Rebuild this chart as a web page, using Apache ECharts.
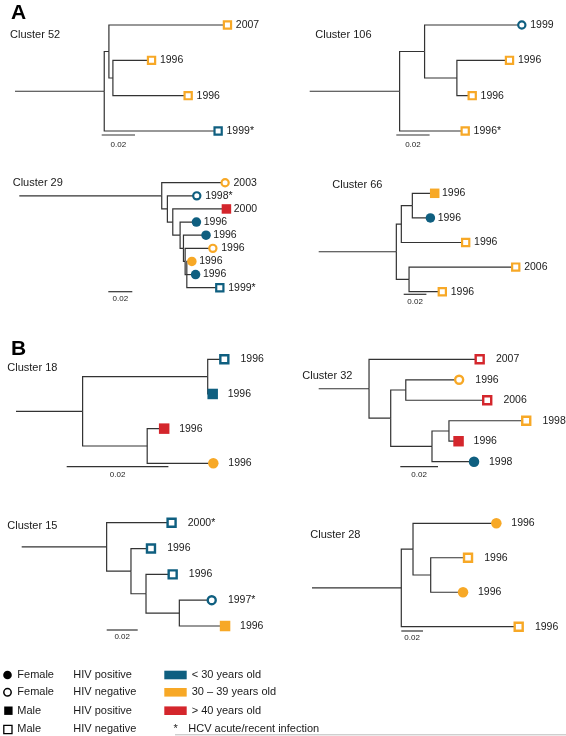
<!DOCTYPE html>
<html><head><meta charset="utf-8">
<script src="https://cdn.jsdelivr.net/npm/echarts@6/dist/echarts.min.js"></script>
<style>html,body{margin:0;padding:0;background:#fff}#c{width:566px;height:736px}</style>
</head><body><div id="c"></div>
<script>
// ---------------- DATA ----------------
const clusterNames = ['Cluster 52','Cluster 106','Cluster 29','Cluster 66','Cluster 18','Cluster 32','Cluster 15','Cluster 28'];
const scaleBarLength = 0.02;

// Trees (Newick, branch lengths in substitutions/site; tip names = tip index)
const c52Tree  = "((0:0.0712,(1:0.0232,2:0.0452):0.0024):0.0028,3:0.0684):0.0536";
const c106Tree = "((0:0.0584,(1:0.0316,2:0.0092):0.0194):0.015,3:0.0394):0.054";
const c29Tree  = "(0:0.0528,(1:0.0245,(2:0.0447,(3:0.0136,(4:0.0188,(5:0.0231,(6:0.0042,7:0.0073,8:0.0275):0.0014):0.0014):0.0028):0.0061):0.0045):0.0047):0.1187";
const c66Tree  = "(((0:0.0197,1:0.0159):0.0097,2:0.0567):0.0044,(3:0.094,4:0.0293):0.0112):0.0684";
const c18Tree  = "((0:0.00327,1:0.00098):0.0246,(2:0.00334,3:0.013):0.0127):0.0131";
const c32Tree  = "(0:0.0587,((1:0.0283,2:0.0432):0.008,((3:0.041,4:0.0051):0.009,5:0.0223):0.0219):0.0115):0.0267";
const c15Tree  = "(0:0.0419,(1:0.0129,(2:0.0172,(3:0.0209,4:0.0295):0.0215):0.0097):0.0157):0.0548";
const c28Tree  = "((0:0.0768,(1:0.0344,2:0.0298):0.0163):0.0108,3:0.1082):0.0823";

// Tips: year label, sex+HIV group (F+,F-,M+,M-), age group
const c52Years = ['2007','1996','1996','1999*'];
const c52Group = ['M-','M-','M-','M-'];
const c52Age   = ['30-39','30-39','30-39','<30'];
const c106Years = ['1999','1996','1996','1996*'];
const c106Group = ['F-','M-','M-','M-'];
const c106Age   = ['<30','30-39','30-39','30-39'];
const c29Years = ['2003','1998*','2000','1996','1996','1996','1996','1996','1999*'];
const c29Group = ['F-','F-','M+','F+','F+','F-','F+','F+','M-'];
const c29Age   = ['30-39','<30','>40','<30','<30','30-39','30-39','<30','<30'];
const c66Years = ['1996','1996','1996','2006','1996'];
const c66Group = ['M+','F+','M-','M-','M-'];
const c66Age   = ['30-39','<30','30-39','30-39','30-39'];
const c18Years = ['1996','1996','1996','1996'];
const c18Group = ['M-','M+','M+','F+'];
const c18Age   = ['<30','<30','>40','30-39'];
const c32Years = ['2007','1996','2006','1998','1996','1998'];
const c32Group = ['M-','F-','M-','M-','M+','F+'];
const c32Age   = ['>40','30-39','>40','30-39','>40','<30'];
const c15Years = ['2000*','1996','1996','1997*','1996'];
const c15Group = ['M-','M-','M-','F-','M+'];
const c15Age   = ['<30','<30','<30','<30','30-39'];
const c28Years = ['1996','1996','1996','1996'];
const c28Group = ['F+','M-','F+','M-'];
const c28Age   = ['30-39','30-39','30-39','30-39'];

const ageLabels = ['< 30 years old','30 \u2013 39 years old','> 40 years old'];
const groupLabels = [['Female','HIV positive'],['Female','HIV negative'],['Male','HIV positive'],['Male','HIV negative']];

// ---------------- STYLE / LAYOUT ----------------
const FONT = 'Liberation Sans, Arial, Helvetica, sans-serif';
const ageColor = {'<30':'#0f5f80','30-39':'#f7a826','>40':'#d4262c'};
const lineColor = '#333';
// x0: stem start px, y0: first tip px, sp: tip spacing px, barPx: pixel length of 0.02
const layout = [
 {x0:15,   y0:25,    sp:35.33, barPx:33.3,  barL:101.7, barY:135,   labY:144.5, tx:10,    ty:35,    panel:'A'},
 {x0:309.7,y0:25,    sp:35.33, barPx:33.3,  barL:396.3, barY:135,   labY:144.5, tx:315.3, ty:35,    panel:'A'},
 {x0:19.3, y0:182.7, sp:13.125,barPx:24,    barL:108.3, barY:291.7, labY:298.5, tx:12.7,  ty:183.3, panel:'A'},
 {x0:318.7,y0:193.3, sp:24.6,  barPx:22.7,  barL:403.7, barY:294.3, labY:301.7, tx:332.3, ty:185,   panel:'A'},
 {x0:16,   y0:359.3, sp:34.67, barPx:101.7, barL:66.7,  barY:466.7, labY:475,   tx:7.3,   ty:368.3, panel:'B'},
 {x0:318.7,y0:359.3, sp:20.48, barPx:37.7,  barL:400.3, barY:466.7, labY:475,   tx:302.3, ty:376,   panel:'B'},
 {x0:21.7, y0:522.7, sp:25.83, barPx:31,    barL:106.7, barY:630,   labY:636.7, tx:7.3,   ty:526,   panel:'B'},
 {x0:312,  y0:523.3, sp:34.47, barPx:21.7,  barL:401.3, barY:631,   labY:637.7, tx:310.3, ty:535,   panel:'B'}
];
const clusters = [
 {tree:c52Tree, years:c52Years, group:c52Group, age:c52Age},
 {tree:c106Tree,years:c106Years,group:c106Group,age:c106Age},
 {tree:c29Tree, years:c29Years, group:c29Group, age:c29Age},
 {tree:c66Tree, years:c66Years, group:c66Group, age:c66Age},
 {tree:c18Tree, years:c18Years, group:c18Group, age:c18Age},
 {tree:c32Tree, years:c32Years, group:c32Group, age:c32Age},
 {tree:c15Tree, years:c15Years, group:c15Group, age:c15Age},
 {tree:c28Tree, years:c28Years, group:c28Group, age:c28Age}
];

function parseNewick(s){
  let i=0;
  function node(){
    const n={children:[],len:0,name:null};
    if(s[i]==='('){
      i++; n.children.push(node());
      while(s[i]===','){i++; n.children.push(node());}
      i++;
    }
    let name='';
    while(i<s.length && !':,()'.includes(s[i])) name+=s[i++];
    if(name) n.name=name;
    if(s[i]===':'){i++; let num=''; while(i<s.length && !',()'.includes(s[i])) num+=s[i++]; n.len=parseFloat(num);}
    return n;
  }
  return node();
}
function layoutTree(root){
  let k=0; const edges=[], tips=[];
  (function walk(n,px){
    n.x=px+n.len;
    if(!n.children.length){ n.y=k++; tips.push(n); }
    else { n.children.forEach(c=>walk(c,n.x)); n.y=(n.children[0].y+n.children[n.children.length-1].y)/2; }
  })(root,0);
  (function collect(n,p){
    edges.push([p?p.x:0, p?p.y:n.y, n.x, n.y]);
    n.children.forEach(c=>collect(c,n));
  })(root,null);
  return {edges,tips};
}

const grids=[], xAxes=[], yAxes=[], series=[], graphics=[];
const W=240;
clusters.forEach((cl,ci)=>{
  const L=layout[ci];
  const n=cl.years.length;
  const upp=scaleBarLength/L.barPx; // units per px
  grids.push({left:L.x0, top:L.y0, width:W, height:(n-1)*L.sp});
  xAxes.push({type:'value', gridIndex:ci, min:0, max:W*upp, show:false});
  yAxes.push({type:'value', gridIndex:ci, min:0, max:n-1, inverse:true, show:false});
  const {edges,tips}=layoutTree(parseNewick(cl.tree));
  series.push({type:'custom', xAxisIndex:ci, yAxisIndex:ci, clip:false, silent:true,
    data:edges,
    renderItem:(p,api)=>{
      const a=api.coord([api.value(0),api.value(1)]);
      const b=api.coord([api.value(0),api.value(3)]);
      const c=api.coord([api.value(2),api.value(3)]);
      return {type:'polyline', shape:{points:[a,b,c]}, style:{stroke:lineColor, lineWidth:1.2, fill:null}};
    }});
  // scale bar
  const bx=(L.barL-L.x0)*upp, by=(L.barY-L.y0)/L.sp, ly=(L.labY-L.y0)/L.sp;
  series.push({type:'custom', xAxisIndex:ci, yAxisIndex:ci, clip:false, silent:true,
    data:[[bx,by,ly]],
    renderItem:(p,api)=>{
      const a=api.coord([api.value(0),api.value(1)]);
      const b=api.coord([api.value(0)+scaleBarLength,api.value(1)]);
      const t=api.coord([api.value(0)+scaleBarLength/2,api.value(2)]);
      return {type:'group',children:[
        {type:'line',shape:{x1:a[0],y1:a[1],x2:b[0],y2:b[1]},style:{stroke:lineColor,lineWidth:1.2}},
        {type:'text',style:{x:t[0],y:t[1],text:'0.02',font:'8px '+FONT,fill:'#222',align:'center',verticalAlign:'middle'}}
      ]};
    }});
  // tips
  const big = L.panel==='B';
  const off = big?15:7.3;
  const data = tips.map(t=>{
    const idx=parseInt(t.name);
    const g=cl.group[idx], col=ageColor[cl.age[idx]];
    const filled=g[1]==='+';
    const sym=g[0]==='F'?'circle':'rect';
    const size=filled?(big?10.5:9.5):(big?8:7.2);
    return {value:[t.x,t.y], symbol:sym, symbolSize:size,
      itemStyle:{color:filled?col:'#fff', borderColor:col, borderWidth:filled?0:(big?2.4:2.2), opacity:1},
      label:{show:true, position:'right', distance:off-size/2, formatter:cl.years[idx],
        fontFamily:FONT, fontSize:10.5, color:'#1a1a1a'}};
  });
  series.push({type:'scatter', xAxisIndex:ci, yAxisIndex:ci, clip:false, silent:true, z:5,
    itemStyle:{opacity:1}, data});
  graphics.push({type:'text', style:{x:L.tx, y:L.ty, text:clusterNames[ci], font:'11px '+FONT, fill:'#1a1a1a', verticalAlign:'middle'}});
});

// Panel letters
graphics.push({type:'text', style:{x:11, y:13, text:'A', font:'bold 21px '+FONT, fill:'#000', verticalAlign:'middle'}});
graphics.push({type:'text', style:{x:11, y:349.5, text:'B', font:'bold 21px '+FONT, fill:'#000', verticalAlign:'middle'}});

// Legend
const rowY=[675,692.3,710.7,729.3];
const lf='11px '+FONT;
graphics.push({type:'circle', shape:{cx:7.5,cy:rowY[0],r:4.3}, style:{fill:'#000'}});
graphics.push({type:'circle', shape:{cx:7.5,cy:rowY[1],r:3.7}, style:{fill:'#fff',stroke:'#000',lineWidth:1.5}});
graphics.push({type:'rect', shape:{x:4.2,y:rowY[2]-4.2,width:8.4,height:8.4}, style:{fill:'#000'}});
graphics.push({type:'rect', shape:{x:3.8,y:rowY[3]-3.9,width:8.2,height:8.2}, style:{fill:'#fff',stroke:'#000',lineWidth:1.3}});
groupLabels.forEach((gl,i)=>{
  graphics.push({type:'text', style:{x:17.3,y:rowY[i],text:gl[0],font:lf,fill:'#1a1a1a',verticalAlign:'middle'}});
  graphics.push({type:'text', style:{x:73.3,y:rowY[i],text:gl[1],font:lf,fill:'#1a1a1a',verticalAlign:'middle'}});
});
['<30','30-39','>40'].forEach((a,i)=>{
  graphics.push({type:'rect', shape:{x:164.3,y:rowY[i]-4.3,width:22.4,height:8.6}, style:{fill:ageColor[a]}});
  graphics.push({type:'text', style:{x:191.7,y:rowY[i],text:ageLabels[i],font:lf,fill:'#1a1a1a',verticalAlign:'middle'}});
});
graphics.push({type:'text', style:{x:173.5,y:rowY[3],text:'*',font:lf,fill:'#1a1a1a',verticalAlign:'middle'}});
graphics.push({type:'text', style:{x:188.3,y:rowY[3],text:'HCV acute/recent infection',font:lf,fill:'#1a1a1a',verticalAlign:'middle'}});
graphics.push({type:'line', shape:{x1:175,y1:734.8,x2:566,y2:734.8}, style:{stroke:'#aaa',lineWidth:0.8}});

const chart=echarts.init(document.getElementById('c'),null,{renderer:'canvas'});
chart.setOption({animation:false, backgroundColor:'#fff', grid:grids, xAxis:xAxes, yAxis:yAxes, series, graphic:graphics});
</script></body></html>
